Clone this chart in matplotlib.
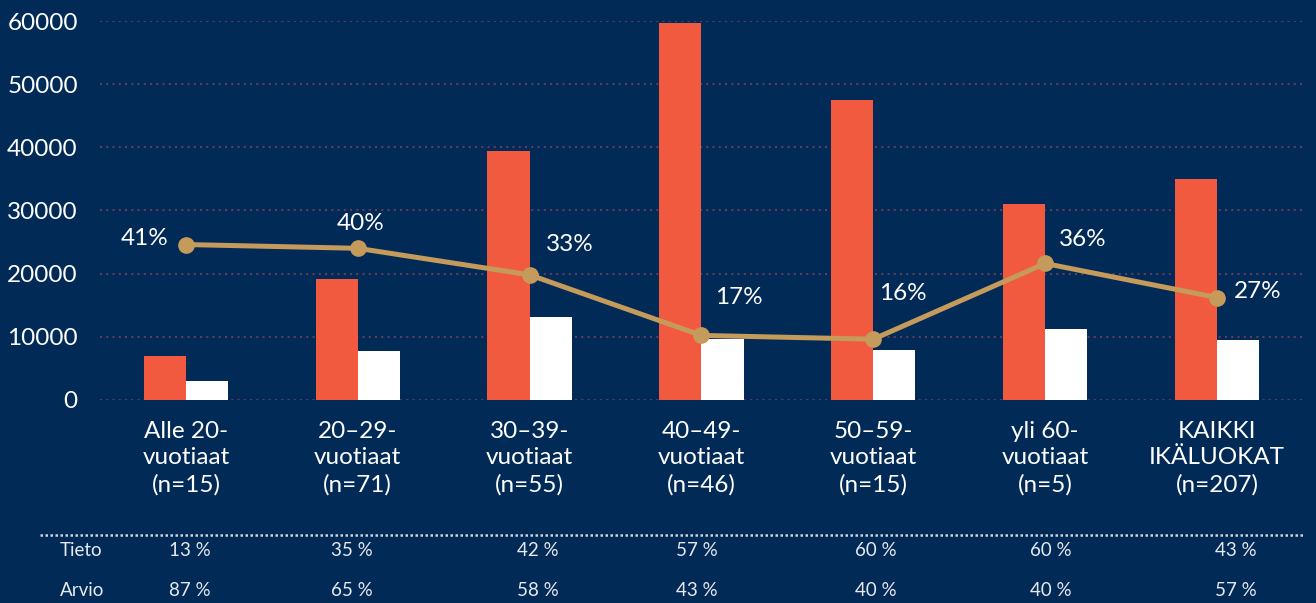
import matplotlib.pyplot as plt
from matplotlib.lines import Line2D

# data
categories = ['Alle 20-\nvuotiaat\n(n=15)', '20–29-\nvuotiaat\n(n=71)', '30–39-\nvuotiaat\n(n=55)',
              '40–49-\nvuotiaat\n(n=46)', '50–59-\nvuotiaat\n(n=15)', 'yli 60-\nvuotiaat\n(n=5)',
              'KAIKKI\nIKÄLUOKAT\n(n=207)']
red_values = [7000, 19200, 39400, 59700, 47500, 31000, 35000]
white_values = [3000, 7800, 13150, 9700, 7900, 11250, 9500]
line_pct = [41, 40, 33, 17, 16, 36, 27]
tieto = ['13 %', '35 %', '42 %', '57 %', '60 %', '60 %', '43 %']
arvio = ['87 %', '65 %', '58 %', '43 %', '40 %', '40 %', '57 %']

BG = '#022a57'
RED = '#f25a40'
GOLD = '#c49b5b'
GRID = '#5e3c5a'

plt.rcParams['font.family'] = ['Lato', 'DejaVu Sans']

fig = plt.figure(figsize=(13.16, 6.03), dpi=100, facecolor=BG)
ax = fig.add_axes([0.076, 0.337, 0.914, 0.628], facecolor=BG)

x = list(range(len(categories)))
w = 0.245
ax.bar([i - w / 2 for i in x], red_values, width=w, color=RED, zorder=2)
ax.bar([i + w / 2 for i in x], white_values, width=w, color='white', zorder=2)

ax.set_xlim(-0.5, len(categories) - 0.5)
ax.set_ylim(0, 60000)
ax.set_yticks(range(0, 60001, 10000))
ax.yaxis.grid(True, color=GRID, linestyle=(0, (1, 2)), linewidth=1.5)
ax.set_axisbelow(True)
for s in ax.spines.values():
    s.set_visible(False)
ax.tick_params(length=0, colors='white', labelsize=17.5)
ax.tick_params(axis='y', pad=16)
ax.tick_params(axis='x', pad=15)
ax.set_xticks(x)
ax.set_xticklabels(categories, linespacing=1.32)

# ratio line on a hidden secondary scale
ax2 = ax.twinx()
ax2.set_ylim(0, 100)
ax2.axis('off')
ax2.plot(x, line_pct, color=GOLD, linewidth=3.6, marker='o', markersize=11, zorder=3)
offsets = [(-30, 4), (2, 18), (29, 22), (27, 27), (21, 33), (27, 17), (29, 4)]
for xi, p, off in zip(x, line_pct, offsets):
    ax2.annotate(f'{p}%', (xi, p), xytext=off, textcoords='offset points',
                 ha='center', va='center', color='white', fontsize=17.5)

# bottom table
fig.add_artist(Line2D([40 / 1316, 1305 / 1316], [1 - 535 / 603] * 2, color='#d0d4dc',
                      linestyle=(0, (1, 1)), linewidth=1.8))
col_x = [190, 352, 538, 697, 876, 1051, 1236]
for label, row, ypx in [('Tieto', tieto, 551), ('Arvio', arvio, 590)]:
    fig.text(60 / 1316, 1 - ypx / 603, label, color='#e6e9ef', fontsize=13.5, va='center')
    for cx, val in zip(col_x, row):
        fig.text(cx / 1316, 1 - ypx / 603, val, color='#e6e9ef', fontsize=13.5,
                 ha='center', va='center')

fig.savefig('out.png', dpi=100, facecolor=BG)
